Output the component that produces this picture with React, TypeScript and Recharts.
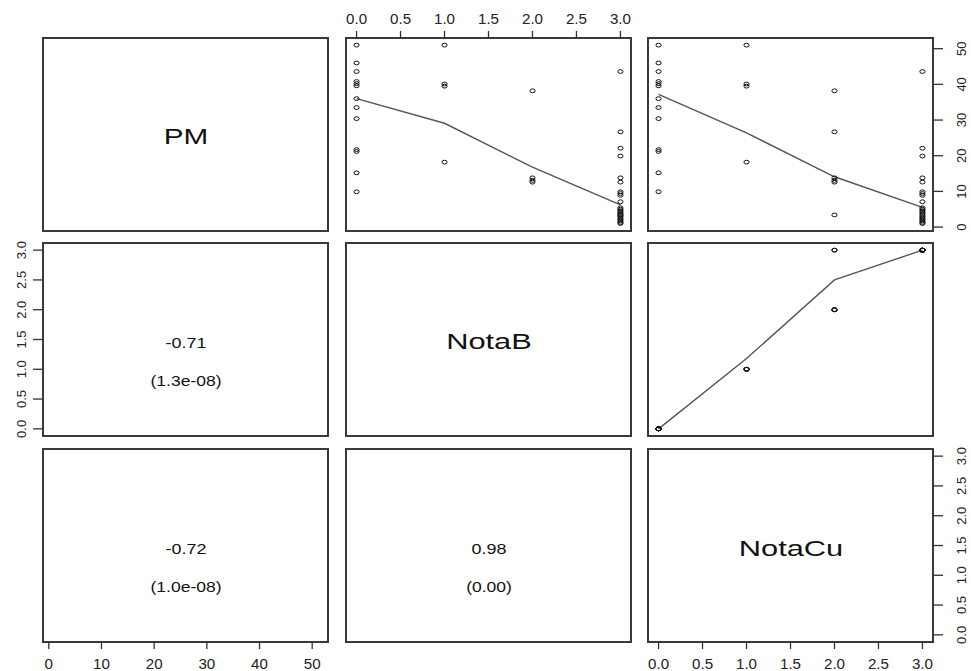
import { ScatterChart, Scatter, XAxis, YAxis } from "recharts";

// observations: PM, NotaB, NotaCu (same order in each list)
const PM = [
  51.0, 46.0, 43.6, 40.8, 40.2, 39.6, 36.0, 33.5, 30.4, 21.7, 21.2, 15.2, 9.9,
  51.0, 40.1, 39.5, 18.2,
  38.2, 13.8, 13.1, 12.6,
  26.7, 3.4,
  43.6, 22.1, 19.9, 13.8, 12.6, 9.9, 9.4, 8.9, 7.1, 5.4, 5.0, 4.6, 4.2, 3.8, 3.3, 2.9, 2.5, 2.1, 1.7, 1.3, 1.0,
];
const NOTA_B = [
  0, 0, 0, 0, 0, 0, 0, 0, 0, 0, 0, 0, 0,
  1, 1, 1, 1,
  2, 2, 2, 2,
  3, 3,
  3, 3, 3, 3, 3, 3, 3, 3, 3, 3, 3, 3, 3, 3, 3, 3, 3, 3, 3, 3, 3,
];
const NOTA_CU = [
  0, 0, 0, 0, 0, 0, 0, 0, 0, 0, 0, 0, 0,
  1, 1, 1, 1,
  2, 2, 2, 2,
  2, 2,
  3, 3, 3, 3, 3, 3, 3, 3, 3, 3, 3, 3, 3, 3, 3, 3, 3, 3, 3, 3, 3,
];

// smoother lines (lowess)
const SMOOTH_X = [0, 1, 2, 3];
const SMOOTH_PM_B = [36.0, 29.1, 16.8, 6.2];
const SMOOTH_PM_CU = [37.2, 26.4, 14.1, 5.5];
const SMOOTH_B_CU = [0.0, 1.18, 2.5, 3.0];

const PM_TICKS = [0, 10, 20, 30, 40, 50];
const SCORE_TICKS = [0, 0.5, 1, 1.5, 2, 2.5, 3];

const PM_DOMAIN: [number, number] = [-1.1, 53.0];
const SCORE_DOMAIN: [number, number] = [-0.12, 3.12];

const W = 285;
const H = 193;
const COL_X = [43, 346, 648];
const ROW_Y = [38, 243, 449];
const M = 48;
const AX_H = 30;
const AX_W = 40;
const FONT = "'Liberation Sans', Arial, Helvetica, sans-serif";

type Pt = { x: number; y: number };

const pairs = (xs: number[], ys: number[]): Pt[] => xs.map((x, i) => ({ x, y: ys[i] }));

const Ring = (props: any) => {
  const { cx, cy } = props;
  if (cx == null || cy == null) return <g />;
  return <ellipse cx={cx} cy={cy} rx={2.6} ry={1.9} fill="none" stroke="#111" strokeWidth={1} />;
};

const fmtScore = (v: number) => v.toFixed(1);
const fmtPM = (v: number) => String(v);

type PanelProps = {
  col: number;
  row: number;
  xDomain: [number, number];
  yDomain: [number, number];
  xTicks: number[];
  yTicks: number[];
  xFmt: (v: number) => string;
  yFmt: (v: number) => string;
  xSide?: "top" | "bottom";
  ySide?: "left" | "right";
  points?: Pt[];
  smooth?: Pt[];
};

function Panel(p: PanelProps) {
  const left = COL_X[p.col];
  const top = ROW_Y[p.row];
  const XTick = (t: any) => (
    <text
      transform={`translate(${t.x}, ${p.xSide === "top" ? M - 19 : M + H + 22}) scale(1.08, 1)`}
      textAnchor="middle"
      dominantBaseline="central"
      fontSize={14}
      fontFamily={FONT}
      fill="#222"
    >
      {p.xFmt(t.payload.value)}
    </text>
  );
  const YTick = (t: any) => (
    <text
      transform={`translate(${p.ySide === "left" ? M - 22 : M + W + 28}, ${t.y}) rotate(-90)`}
      textAnchor="middle"
      dominantBaseline="central"
      fontSize={13}
      fontFamily={FONT}
      fill="#222"
    >
      {p.yFmt(t.payload.value)}
    </text>
  );
  return (
    <>
      <div
        style={{
          position: "absolute",
          left: left - 1,
          top: top - 1,
          width: W + 2,
          height: H + 2,
          border: "2px solid #3a3a3a",
          boxSizing: "border-box",
        }}
      />
      <div style={{ position: "absolute", left: left - M, top: top - M }}>
        <ScatterChart
          width={W + 2 * M}
          height={H + 2 * M}
          margin={{
            top: p.xSide === "top" ? M - AX_H : M,
            bottom: p.xSide === "bottom" ? M - AX_H : M,
            left: p.ySide === "left" ? M - AX_W : M,
            right: p.ySide === "right" ? M - AX_W : M,
          }}
        >
          <XAxis
            type="number"
            dataKey="x"
            domain={p.xDomain}
            ticks={p.xTicks}
            interval={0}
            allowDataOverflow
            hide={!p.xSide}
            orientation={p.xSide || "bottom"}
            height={AX_H}
            axisLine={false}
            tickLine={{ stroke: "#333", strokeWidth: 1.3 }}
            tickSize={7}
            tick={XTick}
          />
          <YAxis
            type="number"
            dataKey="y"
            domain={p.yDomain}
            ticks={p.yTicks}
            interval={0}
            allowDataOverflow
            hide={!p.ySide}
            orientation={p.ySide || "left"}
            width={AX_W}
            axisLine={false}
            tickLine={{ stroke: "#333", strokeWidth: 1.3 }}
            tickSize={10}
            tick={YTick}
          />
          {p.smooth && (
            <Scatter
              data={p.smooth}
              isAnimationActive={false}
              line={{ stroke: "#555", strokeWidth: 1.4 }}
              lineType="joint"
              shape={() => <g />}
            />
          )}
          {p.points && <Scatter data={p.points} isAnimationActive={false} shape={Ring} />}
        </ScatterChart>
      </div>
    </>
  );
}

function Label({
  col,
  row,
  text,
  dy,
  size,
  sx,
}: {
  col: number;
  row: number;
  text: string;
  dy: number;
  size: number;
  sx: number;
}) {
  return (
    <div
      style={{
        position: "absolute",
        left: COL_X[col] + W / 2,
        top: ROW_Y[row] + H / 2 + dy,
        transform: `translate(-50%, -50%) scaleX(${sx})`,
        fontFamily: FONT,
        fontSize: size,
        color: "#111",
        whiteSpace: "nowrap",
        lineHeight: 1,
      }}
    >
      {text}
    </div>
  );
}

export default function App() {
  const smoothPmB = pairs(SMOOTH_X, SMOOTH_PM_B);
  const smoothPmCu = pairs(SMOOTH_X, SMOOTH_PM_CU);
  const smoothBCu = pairs(SMOOTH_X, SMOOTH_B_CU);
  return (
    <div
      style={{
        position: "absolute",
        left: 0,
        top: 0,
        width: 971,
        height: 671,
        background: "#fff",
        overflow: "hidden",
      }}
    >
      {/* row 1 */}
      <Panel col={0} row={0} xDomain={PM_DOMAIN} yDomain={PM_DOMAIN} xTicks={PM_TICKS} yTicks={PM_TICKS} xFmt={fmtPM} yFmt={fmtPM} />
      <Panel
        col={1}
        row={0}
        xDomain={SCORE_DOMAIN}
        yDomain={PM_DOMAIN}
        xTicks={SCORE_TICKS}
        yTicks={PM_TICKS}
        xFmt={fmtScore}
        yFmt={fmtPM}
        xSide="top"
        points={pairs(NOTA_B, PM)}
        smooth={smoothPmB}
      />
      <Panel
        col={2}
        row={0}
        xDomain={SCORE_DOMAIN}
        yDomain={PM_DOMAIN}
        xTicks={SCORE_TICKS}
        yTicks={PM_TICKS}
        xFmt={fmtScore}
        yFmt={fmtPM}
        ySide="right"
        points={pairs(NOTA_CU, PM)}
        smooth={smoothPmCu}
      />
      {/* row 2 */}
      <Panel col={0} row={1} xDomain={PM_DOMAIN} yDomain={SCORE_DOMAIN} xTicks={PM_TICKS} yTicks={SCORE_TICKS} xFmt={fmtPM} yFmt={fmtScore} ySide="left" />
      <Panel col={1} row={1} xDomain={SCORE_DOMAIN} yDomain={SCORE_DOMAIN} xTicks={SCORE_TICKS} yTicks={SCORE_TICKS} xFmt={fmtScore} yFmt={fmtScore} />
      <Panel
        col={2}
        row={1}
        xDomain={SCORE_DOMAIN}
        yDomain={SCORE_DOMAIN}
        xTicks={SCORE_TICKS}
        yTicks={SCORE_TICKS}
        xFmt={fmtScore}
        yFmt={fmtScore}
        points={pairs(NOTA_CU, NOTA_B)}
        smooth={smoothBCu}
      />
      {/* row 3 */}
      <Panel col={0} row={2} xDomain={PM_DOMAIN} yDomain={SCORE_DOMAIN} xTicks={PM_TICKS} yTicks={SCORE_TICKS} xFmt={fmtPM} yFmt={fmtScore} xSide="bottom" />
      <Panel col={1} row={2} xDomain={SCORE_DOMAIN} yDomain={SCORE_DOMAIN} xTicks={SCORE_TICKS} yTicks={SCORE_TICKS} xFmt={fmtScore} yFmt={fmtScore} />
      <Panel
        col={2}
        row={2}
        xDomain={SCORE_DOMAIN}
        yDomain={SCORE_DOMAIN}
        xTicks={SCORE_TICKS}
        yTicks={SCORE_TICKS}
        xFmt={fmtScore}
        yFmt={fmtScore}
        xSide="bottom"
        ySide="right"
      />

      <Label col={0} row={0} text="PM" dy={2} size={22} sx={1.35} />
      <Label col={1} row={1} text="NotaB" dy={2} size={22} sx={1.4} />
      <Label col={2} row={2} text="NotaCu" dy={3} size={22} sx={1.4} />

      <Label col={0} row={1} text="-0.71" dy={3} size={14} sx={1.28} />
      <Label col={0} row={1} text="(1.3e-08)" dy={41} size={14} sx={1.25} />
      <Label col={0} row={2} text="-0.72" dy={3} size={14} sx={1.28} />
      <Label col={0} row={2} text="(1.0e-08)" dy={41} size={14} sx={1.25} />
      <Label col={1} row={2} text="0.98" dy={3} size={14} sx={1.28} />
      <Label col={1} row={2} text="(0.00)" dy={41} size={14} sx={1.25} />
    </div>
  );
}
